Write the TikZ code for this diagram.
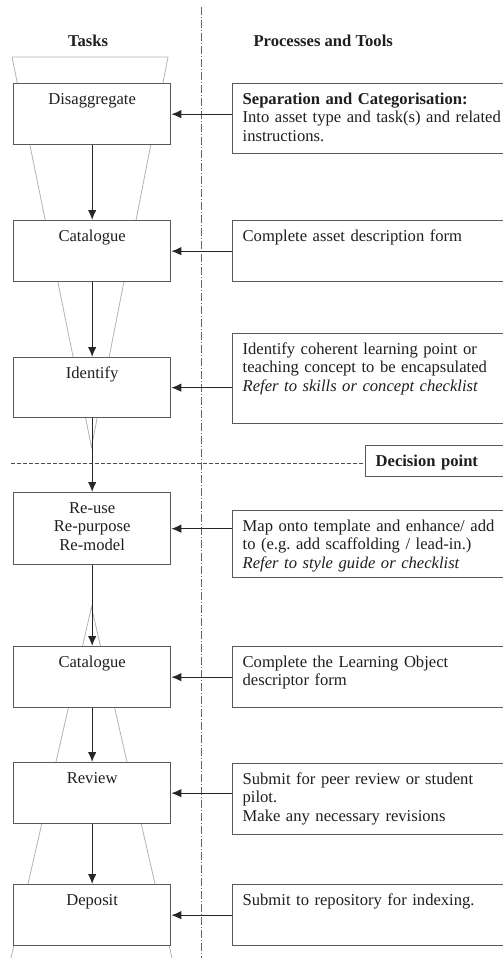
\documentclass[tikz,border=0pt]{standalone}
\usepackage{fontspec}
\setmainfont{Liberation Serif}
\usetikzlibrary{arrows.meta}
\frenchspacing

\begin{document}
\begin{tikzpicture}[x=1pt, y=-1pt,
    font=\fontsize{16.6}{18.5}\selectfont, text=black!88,
    head/.style={font=\fontsize{16.6}{18.5}\selectfont\bfseries},
    task/.style={draw=black!65, line width=1.3pt, fill=white, anchor=north west,
        inner xsep=10pt, inner ysep=0pt, text width=137pt, align=center, text height=20.5pt},
    tool/.style={draw=black!65, line width=1.3pt, fill=white, anchor=north west,
        inner xsep=10pt, inner ysep=0pt, text width=280pt, align=left, text height=20.5pt},
    tall/.style={text depth=#1pt-20.5pt},
    funnel/.style={draw=black!30, line width=0.8pt},
    flow/.style={draw=black!85, line width=1.2pt, -{Latex[length=10pt,width=8.5pt]}},
  ]

    \useasboundingbox (0,0) rectangle (503,958);
    \clip (0,0) rectangle (503,958);

    % divider
    \coordinate (vtop) at (201,7);
    \coordinate (vbot) at (201,958);
    \draw[black!60, line width=0.9pt, dash pattern=on 8pt off 2pt on 1pt off 2pt] (vtop) -- (vbot);

    % funnels
    \draw[funnel] (12,57) -- (168,57) -- (91.5,447) -- cycle;
    \draw[funnel] (11,958) -- (91.5,607) -- (172,958);

    % headings
    \node[head, anchor=base] (tasks) at (88,47) {Tasks};
    \node[head, anchor=base west] (procs) at (250,47) {Processes and Tools};

    % tasks
    \node[task, tall=61] (dis) at (13,83) {Disaggregate};
    \node[task, tall=61] (cat) at (13,220) {Catalogue};
    \node[task, tall=60] (idf) at (13,357) {Identify};
    \node[task, tall=72] (reu) at (13,492) {Re-use\\Re-purpose\\Re-model};
    \node[task, tall=61] (lcat) at (13,646) {Catalogue};
    \node[task, tall=61] (rev) at (13,762) {Review};
    \node[task, tall=61] (dep) at (13,884) {Deposit};

    % processes and tools
    \node[tool, tall=70] (sep) at (232,83) {\textbf{Separation and Categorisation:}\\Into asset type and task(s) and related\\instructions.};
    \node[tool, tall=61] (form) at (232,220) {Complete asset description form};
    \node[tool, tall=90] (pnt) at (232,333) {Identify coherent learning point or\\teaching concept to be encapsulated\\\textit{Refer to skills or concept checklist}};
    \node[tool, tall=31] (dec) at (365,445) {\textbf{Decision point}};
    \node[tool, tall=67] (map) at (232,510) {Map onto template and enhance/ add\\to (e.g. add scaffolding / lead-in.)\\\textit{Refer to style guide or checklist}};
    \node[tool, tall=61] (lo) at (232,646) {Complete the Learning Object\\descriptor form};
    \node[tool, tall=71] (peer) at (232,763) {Submit for peer review or student\\pilot.\\Make any necessary revisions};
    \node[tool, tall=61] (repo) at (232,884) {Submit to repository for indexing.};

    % decision line
    \coordinate (dl) at (11,463);
    \draw[black!70, line width=0.9pt, dash pattern=on 4pt off 2pt] (dl) -- (dl -| dec.west);

    % arrows
    \foreach \a/\b in {dis/cat, cat/idf, idf/reu, reu/lcat, lcat/rev, rev/dep}
        \draw[flow] (\a.south) -- (\b.north);
    \foreach \lft/\rgt in {dis/sep, cat/form, idf/pnt, reu/map, lcat/lo, rev/peer, dep/repo}
        \draw[flow] (\rgt.west |- \lft.center) -- (\lft.east);

\end{tikzpicture}
\end{document}
